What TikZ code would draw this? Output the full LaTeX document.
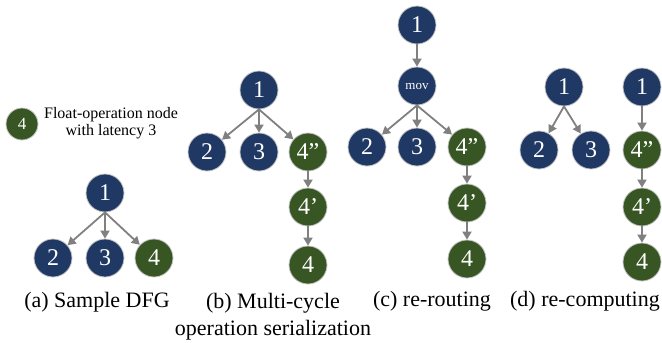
\documentclass[tikz,border=0pt]{standalone}
\usepackage{fontspec}
\setmainfont{Liberation Serif}
\usetikzlibrary{arrows.meta}
\definecolor{intblue}{HTML}{1F3864}
\definecolor{floatgreen}{HTML}{375623}
\tikzstyle{opnode}=[circle,draw=gray!45,line width=0.8pt,minimum size=38pt,inner sep=0pt,text=white,font=\fontsize{24}{24}\selectfont]
\tikzstyle{intop}=[opnode,fill=intblue]
\tikzstyle{floatop}=[opnode,fill=floatgreen]
\tikzstyle{dep}=[draw=gray,line width=1.8pt,-{Triangle[length=8pt,width=9pt]}]
\tikzstyle{caption}=[font=\fontsize{22}{27}\selectfont,align=center]
\newcommand{\fanout}[4]{% parent, three children
  \draw[dep] (#1.south) -- (#2);
  \draw[dep] (#1.south) -- (#3);
  \draw[dep] (#1.south) -- (#4);
}

\begin{document}
\begin{tikzpicture}[x=1pt,y=-1pt]
  \useasboundingbox (0,0) rectangle (662,343);
  % legend
  \node[floatop,minimum size=32pt,font=\fontsize{17}{17}\selectfont] (key) at (22,124) {4};
  \node[font=\fontsize{16}{17}\selectfont,align=center] (keytext) at (111,123.5) {Float-operation node\\with latency 3};

  % (a) sample DFG
  \node[intop] (a1) at (105,193) {1};
  \node[intop] (a2) at (53,258) {2};
  \node[intop] (a3) at (105,258) {3};
  \node[floatop] (a4) at (154,258) {4};
  \fanout{a1}{a2}{a3}{a4}
  \node[caption] (capa) at (97,302) {(a) Sample DFG};

  % (b) multi-cycle serialization
  \node[intop] (b1) at (259,90) {1};
  \node[intop] (b2) at (207,152) {2};
  \node[intop] (b3) at (259,152) {3};
  \node[floatop] (b4b) at (308,152) {4''};
  \node[floatop] (b4a) at (308,207) {4'};
  \node[floatop] (b4) at (308,265) {4};
  \fanout{b1}{b2}{b3}{b4b}
  \draw[dep] (b4b) -- (b4a);
  \draw[dep] (b4a) -- (b4);
  \node[caption] (capb) at (273,316.5) {(b) Multi-cycle\\operation serialization};

  % (c) re-routing
  \node[intop] (c1) at (417,25) {1};
  \node[intop,font=\fontsize{13}{13}\selectfont] (cmov) at (417,86) {mov};
  \node[intop] (c2) at (367,147) {2};
  \node[intop] (c3) at (417,147) {3};
  \node[floatop] (c4b) at (467,147) {4''};
  \node[floatop] (c4a) at (467,203) {4'};
  \node[floatop] (c4) at (467,259) {4};
  \draw[dep] (c1) -- (cmov);
  \fanout{cmov}{c2}{c3}{c4b}
  \draw[dep] (c4b) -- (c4a);
  \draw[dep] (c4a) -- (c4);
  \node[caption] (capc) at (432,301) {(c) re-routing};

  % (d) re-computing
  \node[intop] (d1) at (564,87) {1};
  \node[intop] (d2) at (539,150) {2};
  \node[intop] (d3) at (591,150) {3};
  \node[intop] (d1r) at (642,87) {1};
  \node[floatop] (d4b) at (642,150) {4''};
  \node[floatop] (d4a) at (642,207) {4'};
  \node[floatop] (d4) at (642,262) {4};
  \draw[dep] (d1.south) -- (d2);
  \draw[dep] (d1.south) -- (d3);
  \draw[dep] (d1r) -- (d4b);
  \draw[dep] (d4b) -- (d4a);
  \draw[dep] (d4a) -- (d4);
  \node[caption] (capd) at (585,301) {(d) re-computing};
\end{tikzpicture}
\end{document}
